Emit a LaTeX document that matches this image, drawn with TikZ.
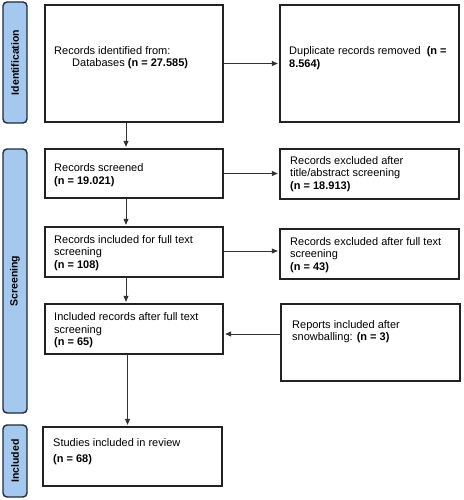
\documentclass[tikz,border=0pt]{standalone}
\usepackage{fontspec}
\setmainfont{Liberation Sans}
\usetikzlibrary{arrows.meta}
\definecolor{barfill}{HTML}{A5C8EE}
\definecolor{barline}{HTML}{1E2B3C}
\definecolor{boxline}{HTML}{222222}
\definecolor{arrline}{HTML}{333333}
\begin{document}
\begin{tikzpicture}[x=1pt,y=-1pt,
  box/.style={draw=boxline, line width=1.4pt, fill=white, inner sep=0pt},
  bar/.style={draw=barline, line width=1.4pt, fill=barfill, rounded corners=4pt, inner sep=0pt, minimum width=24pt},
  barlabel/.style={rotate=90, font=\fontsize{10.5}{12}\selectfont\bfseries, text=black},
  txt/.style={anchor=west, align=left, inner sep=0pt, font=\fontsize{11}{12.5}\selectfont},
  arr/.style={draw=arrline, line width=0.8pt, -{Triangle[length=6pt,width=5pt]}, shorten >=1.5pt}
]
\useasboundingbox (0,0) rectangle (463,500);

% phase bars
\node[bar, minimum height=121pt] (pid) at (15,62.5) {};
\node[barlabel] (lid) at (pid.center) {Identification};
\node[bar, minimum height=264pt] (pscr) at (15,281) {};
\node[barlabel] (lscr) at (pscr.center) {Screening};
\node[bar, minimum height=72pt] (pinc) at (15,461) {};
\node[barlabel] (linc) at (pinc.center) {Included};

% left column
\node[box, minimum width=178pt, minimum height=117pt] (b1) at (134,63.5) {};
\node[txt] (t1) at (54,57.5) {Records identified from:\\\hspace*{18pt}Databases \textbf{(n = 27.585)}};
\node[box, minimum width=178pt, minimum height=49pt] (b2) at (134,173.5) {};
\node[txt] (t2) at (54,175) {Records screened\\\textbf{(n = 19.021)}};
\node[box, minimum width=178pt, minimum height=50pt] (b3) at (134,252) {};
\node[txt] (t3) at (54,253) {Records included for full text\\screening\\\textbf{(n = 108)}};
\node[box, minimum width=178pt, minimum height=50pt] (b4) at (134,329) {};
\node[txt] (t4) at (54,330.5) {Included records after full text\\screening\\\textbf{(n = 65)}};
\node[box, minimum width=179pt, minimum height=59pt] (b5) at (132.5,456.5) {};
\node[txt] (t5) at (53,451.5) {Studies included in review\\[3pt]\textbf{(n = 68)}};

% right column
\node[box, minimum width=179pt, minimum height=117pt] (d1) at (369.5,63.5) {};
\node[txt] (td1) at (289,58) {Duplicate records removed\ \ \textbf{(n =}\\\textbf{8.564)}};
\node[box, minimum width=179pt, minimum height=50pt] (d2) at (369.5,174) {};
\node[txt] (td2) at (290,174) {Records excluded after\\title/abstract screening\\\textbf{(n = 18.913)}};
\node[box, minimum width=179pt, minimum height=50pt] (d3) at (369.5,254) {};
\node[txt] (td3) at (290,255) {Records excluded after full text\\screening\\\textbf{(n = 43)}};
\node[box, minimum width=179pt, minimum height=77pt] (s4) at (370.5,342.5) {};
\node[txt] (ts4) at (292,331.5) {Reports included after\\snowballing: \textbf{(n = 3)}};

% connectors
\draw[arr] (b1.east) -- (d1.west);
\draw[arr] ([xshift=-8pt]b1.south) -- ([xshift=-8pt]b2.north);
\draw[arr] (b2.east) -- (b2.east -| d2.west);
\draw[arr] ([xshift=-8pt]b2.south) -- ([xshift=-8pt]b3.north);
\draw[arr] ([yshift=1pt]b3.east) -- ([yshift=1pt]b3.east -| d3.west);
\draw[arr] ([xshift=-8pt]b3.south) -- ([xshift=-8pt]b4.north);
\draw[arr] ([yshift=8.5pt]s4.west) -- ([yshift=8.5pt]s4.west -| b4.east);
\draw[arr] ([xshift=-6.5pt]b4.south) -- ([xshift=-6.5pt]b4.south |- b5.north);
\end{tikzpicture}
\end{document}
